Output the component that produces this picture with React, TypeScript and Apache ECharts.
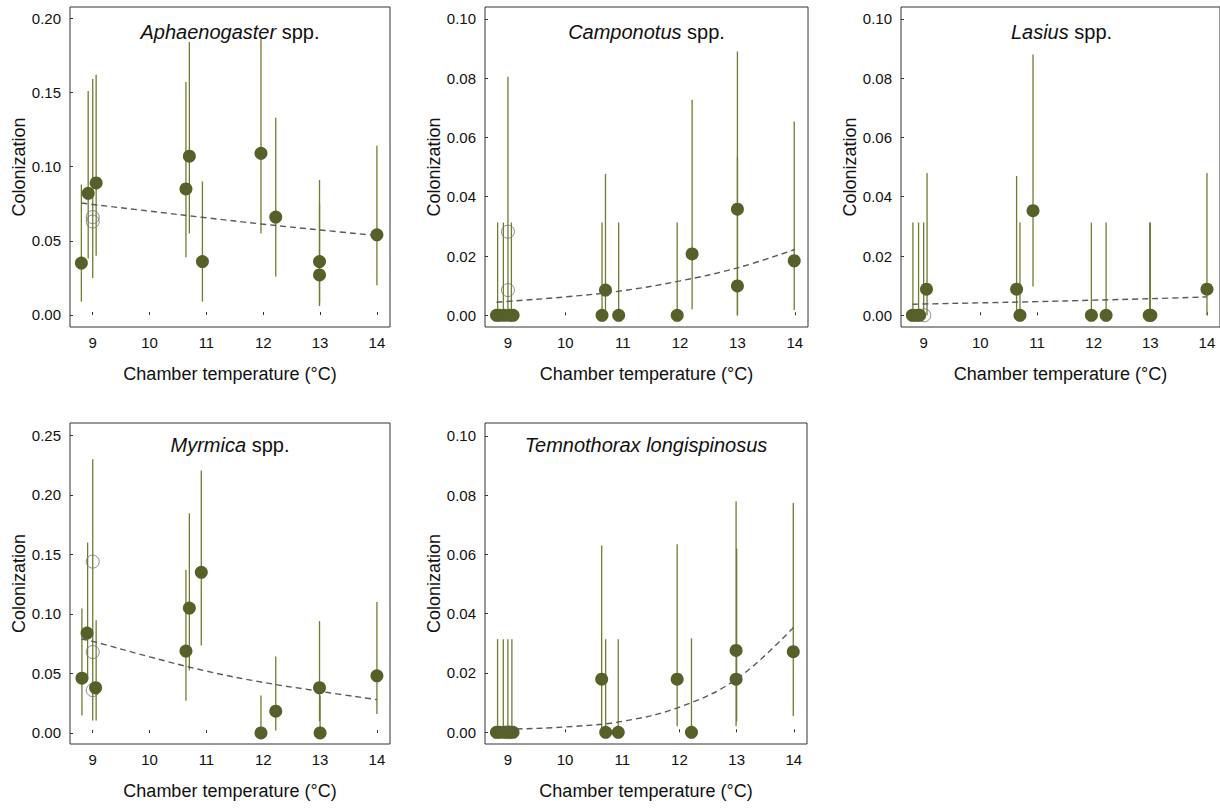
import React, { useEffect, useRef } from "react";
import * as echarts from "echarts";

// ---------- data ----------
// points: [temperature, colonization]; bars: [temperature, lower, upper]; fit: [temperature, fitted]
const aphPoints = [
  [8.80, 0.035], [8.92, 0.082], [9.06, 0.089], [10.64, 0.085], [10.70, 0.107],
  [10.93, 0.036], [11.96, 0.109], [12.22, 0.066], [12.99, 0.036], [12.99, 0.027], [14.0, 0.054],
];
const aphOpen = [[9.0, 0.066], [9.0, 0.063]];
const aphBars = [
  [8.80, 0.009, 0.088], [8.92, 0.038, 0.151], [9.0, 0.025, 0.159], [9.06, 0.040, 0.162],
  [10.64, 0.039, 0.157], [10.70, 0.055, 0.184], [10.93, 0.009, 0.090], [11.96, 0.055, 0.186],
  [12.22, 0.026, 0.133], [12.99, 0.008, 0.091], [12.99, 0.006, 0.075], [14.0, 0.020, 0.114],
];
const aphFit = [[8.8, 0.0755], [9, 0.0745], [10, 0.070], [11, 0.0655], [12, 0.0612], [13, 0.0573], [14, 0.0535]];

const camPoints = [
  [8.80, 0], [8.855, 0], [8.94, 0], [9.03, 0], [9.09, 0], [10.64, 0], [10.70, 0.0085],
  [10.93, 0], [11.95, 0], [12.21, 0.0207], [13.0, 0.0358], [13.0, 0.0099], [13.99, 0.0184],
];
const camOpen = [[9.0, 0.0282], [9.0, 0.0085]];
const camBars = [
  [8.82, 0, 0.0313], [8.92, 0, 0.0313], [9.0, 0, 0.0805], [9.06, 0, 0.0313],
  [10.64, 0, 0.0313], [10.70, 0, 0.0477], [10.93, 0, 0.0313], [11.95, 0, 0.0313],
  [12.21, 0.002, 0.0727], [13.0, 0.0, 0.089], [13.0, 0.0, 0.0535], [13.99, 0.0018, 0.0654],
];
const camFit = [[8.8, 0.0044], [9, 0.0047], [10, 0.0062], [11, 0.0083], [12, 0.0116], [13, 0.016], [14, 0.0222]];

const lasPoints = [
  [8.80, 0], [8.87, 0], [8.93, 0], [9.05, 0.0088], [10.64, 0.0088], [10.70, 0],
  [10.93, 0.0353], [11.96, 0], [12.22, 0], [12.98, 0], [13.01, 0], [14.0, 0.0088],
];
const lasOpen = [[9.01, 0]];
const lasBars = [
  [8.81, 0, 0.0313], [8.91, 0, 0.0313], [9.0, 0, 0.0313], [9.06, 0, 0.048],
  [10.64, 0, 0.047], [10.70, 0, 0.0313], [10.93, 0.0097, 0.088], [11.96, 0, 0.0313],
  [12.22, 0, 0.0313], [12.99, 0, 0.0313], [13.0, 0, 0.0313], [14.0, 0, 0.048],
];
const lasFit = [[8.8, 0.0037], [9, 0.0038], [10, 0.0042], [11, 0.0046], [12, 0.0051], [13, 0.0056], [14, 0.0062]];

const myrPoints = [
  [8.81, 0.046], [8.90, 0.084], [9.05, 0.038], [10.64, 0.0688], [10.70, 0.105],
  [10.91, 0.135], [11.96, 0], [12.22, 0.0183], [12.99, 0.038], [13.0, 0], [14.0, 0.048],
];
const myrOpen = [[9.0, 0.144], [9.0, 0.068], [9.0, 0.036]];
const myrBars = [
  [8.81, 0.0146, 0.1045], [8.91, 0.045, 0.16], [9.0, 0.0104, 0.23], [9.06, 0.0104, 0.0947],
  [10.64, 0.027, 0.137], [10.70, 0.0525, 0.1846], [10.91, 0.0736, 0.2205], [11.96, 0, 0.0315],
  [12.22, 0.002, 0.0643], [12.99, 0.0098, 0.094], [13.0, 0, 0.0315], [14.0, 0.016, 0.110],
];
const myrFit = [[8.8, 0.079], [9, 0.077], [10, 0.064], [11, 0.052], [12, 0.0425], [13, 0.035], [14, 0.028]];

const temPoints = [
  [8.80, 0], [8.855, 0], [8.94, 0], [9.03, 0], [9.09, 0], [10.64, 0.0179], [10.71, 0],
  [10.93, 0], [11.96, 0.0179], [12.21, 0], [12.99, 0.0276], [12.99, 0.0179], [13.99, 0.0272],
];
const temOpen = [[9.0, 0]];
const temBars = [
  [8.82, 0, 0.0314], [8.92, 0, 0.0314], [9.0, 0, 0.0314], [9.07, 0, 0.0314],
  [10.64, 0, 0.063], [10.71, 0, 0.0314], [10.93, 0, 0.0314], [11.96, 0.002, 0.0634],
  [12.21, 0, 0.0317], [12.99, 0.002, 0.0778], [13.0, 0.0036, 0.062], [13.99, 0.0055, 0.0773],
];
const temFit = [[8.8, 0.0009], [9, 0.001], [10, 0.0018], [11, 0.0037], [12, 0.0085], [13, 0.018], [14, 0.0355]];

const xTicks = [9, 10, 11, 12, 13, 14];
const yTicksA = [0, 0.05, 0.1, 0.15, 0.2];
const yTicksB = [0, 0.02, 0.04, 0.06, 0.08, 0.1];
const yTicksC = [0, 0.05, 0.1, 0.15, 0.2, 0.25];

const xName = "Chamber temperature (°C)";
const yName = "Colonization";

// ---------- styles ----------
const FONT = 'Arial, "Liberation Sans", Helvetica, sans-serif';
const FILL = "#566129";
const BAR = "#6f7d31";
const OPEN = "#707070";
const FIT = "#5a5a5a";
const FRAME = "#333333";

const panels = [
  { title: ["Aphaenogaster", " spp."], points: aphPoints, open: aphOpen, bars: aphBars, fit: aphFit,
    grid: { left: 70, top: 7, width: 320, height: 320 }, yMin: -0.0081, yMax: 0.2076, yTicks: yTicksA, titleTop: 20 },
  { title: ["Camponotus", " spp."], points: camPoints, open: camOpen, bars: camBars, fit: camFit,
    grid: { left: 485, top: 7, width: 323, height: 320 }, yMin: -0.00395, yMax: 0.104, yTicks: yTicksB, titleTop: 20 },
  { title: ["Lasius", " spp."], points: lasPoints, open: lasOpen, bars: lasBars, fit: lasFit,
    grid: { left: 901, top: 7, width: 321, height: 320 }, yMin: -0.00395, yMax: 0.104, yTicks: yTicksB, titleTop: 20 },
  { title: ["Myrmica", " spp."], points: myrPoints, open: myrOpen, bars: myrBars, fit: myrFit,
    grid: { left: 70, top: 423, width: 320, height: 321 }, yMin: -0.00927, yMax: 0.2605, yTicks: yTicksC, titleTop: 433 },
  { title: ["Temnothorax longispinosus", ""], points: temPoints, open: temOpen, bars: temBars, fit: temFit,
    grid: { left: 485, top: 423, width: 322, height: 321 }, yMin: -0.00395, yMax: 0.1043, yTicks: yTicksB, titleTop: 433 },
];

function buildOption() {
  const grid: any[] = [];
  const xAxis: any[] = [];
  const yAxis: any[] = [];
  const series: any[] = [];
  const title: any[] = [];

  panels.forEach((p, i) => {
    grid.push({ ...p.grid, show: true, borderColor: FRAME, borderWidth: 1, backgroundColor: "transparent", containLabel: false });
    xAxis.push({
      gridIndex: i, type: "value", min: 8.6, max: 14.23,
      axisLine: { show: false },
      axisTick: { show: true, inside: true, length: 3, customValues: xTicks, lineStyle: { color: FRAME } },
      axisLabel: { customValues: xTicks, margin: 8, fontSize: 15, color: "#111", fontFamily: FONT },
      splitLine: { show: false },
      name: xName, nameLocation: "middle", nameGap: 38,
      nameTextStyle: { fontSize: 18, color: "#111", fontFamily: FONT },
    });
    yAxis.push({
      gridIndex: i, type: "value", min: p.yMin, max: p.yMax,
      axisLine: { show: false },
      axisTick: { show: true, inside: true, length: 3, customValues: p.yTicks, lineStyle: { color: FRAME } },
      axisLabel: { customValues: p.yTicks, margin: 9, fontSize: 15, color: "#111", fontFamily: FONT,
        formatter: (v: number) => v.toFixed(2) },
      splitLine: { show: false },
      name: yName, nameLocation: "middle", nameGap: 42, nameRotate: 90,
      nameTextStyle: { fontSize: 18, color: "#111", fontFamily: FONT },
    });
    title.push({
      text: p.title[1] ? `{i|${p.title[0]}}{n|${p.title[1]}}` : `{i|${p.title[0]}}`,
      left: p.grid.left + p.grid.width / 2,
      top: p.titleTop,
      textAlign: "center",
      padding: 0,
      textStyle: {
        fontWeight: "normal",
        rich: {
          i: { fontSize: 20, fontStyle: "italic", fontWeight: "normal", color: "#111", fontFamily: FONT, lineHeight: 24 },
          n: { fontSize: 20, fontWeight: "normal", color: "#111", fontFamily: FONT, lineHeight: 24 },
        },
      },
    });
    series.push({
      type: "custom", xAxisIndex: i, yAxisIndex: i, data: p.bars, z: 1,
      encode: { x: 0, y: [1, 2] },
      renderItem: (_params: any, api: any) => {
        const x = api.value(0);
        const a = api.coord([x, api.value(1)]);
        const b = api.coord([x, api.value(2)]);
        return { type: "line", shape: { x1: a[0], y1: a[1], x2: b[0], y2: b[1] }, style: { stroke: BAR, lineWidth: 1.3 } };
      },
    });
    series.push({
      type: "scatter", xAxisIndex: i, yAxisIndex: i, data: p.open, z: 2,
      symbol: "circle", symbolSize: 13,
      itemStyle: { color: "rgba(0,0,0,0)", borderColor: OPEN, borderWidth: 1 },
    });
    series.push({
      type: "scatter", xAxisIndex: i, yAxisIndex: i, data: p.points, z: 3,
      symbol: "circle", symbolSize: 13,
      itemStyle: { color: FILL, opacity: 1 },
    });
    series.push({
      type: "line", xAxisIndex: i, yAxisIndex: i, data: p.fit, z: 4,
      smooth: 0.4, symbol: "none",
      lineStyle: { color: FIT, width: 1.4, type: [6, 4] },
    });
  });

  return { animation: false, backgroundColor: "#ffffff", title, grid, xAxis, yAxis, series };
}

export default function App() {
  const ref = useRef<HTMLDivElement>(null);
  useEffect(() => {
    if (!ref.current) return;
    const chart = echarts.init(ref.current, undefined, { renderer: "svg" });
    chart.setOption(buildOption() as any);
    return () => chart.dispose();
  }, []);
  return (
    <div
      ref={ref}
      style={{ position: "absolute", left: 0, top: 0, width: 1220, height: 808, background: "#fff" }}
    />
  );
}
